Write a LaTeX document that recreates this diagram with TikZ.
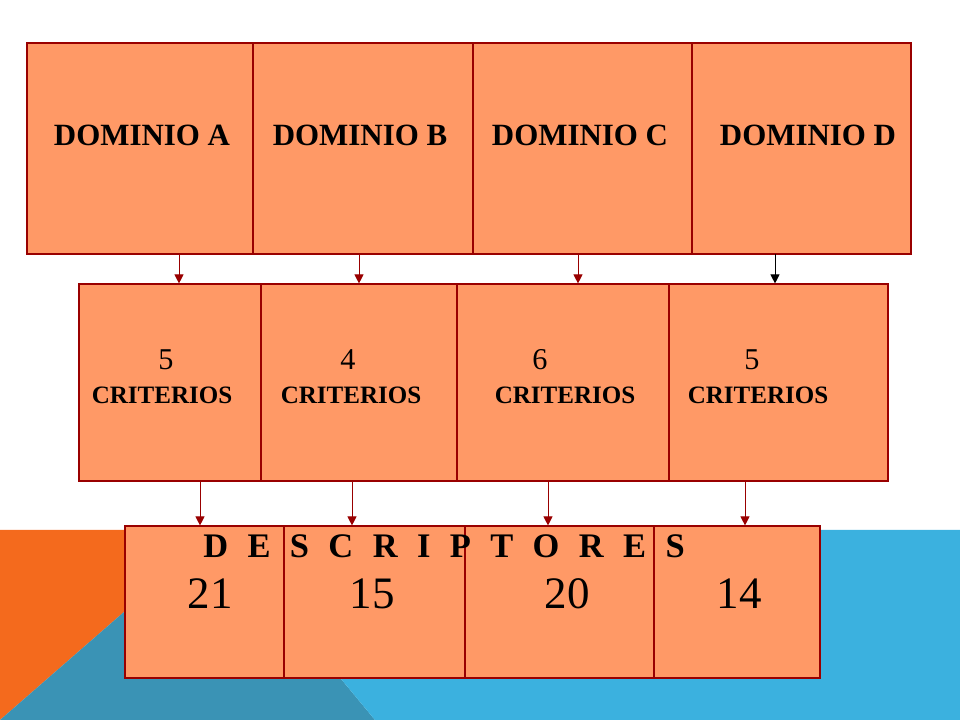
\documentclass[tikz,border=0pt]{standalone}
\usepackage{fontspec}
\setmainfont{Liberation Serif}
\usetikzlibrary{calc,arrows.meta,positioning}
\usepackage{xcolor}
\definecolor{slide_orange}{RGB}{244,106,29}
\definecolor{slide_teal}{RGB}{58,147,181}
\definecolor{slide_blue}{RGB}{59,177,223}
\definecolor{box_fill}{RGB}{255,153,102}
\definecolor{box_line}{RGB}{153,0,0}
\tikzset{
  cell/.style     = {rectangle, draw=box_line, fill=box_fill, line width=0.8pt, inner sep=0pt},
  conn/.style     = {box_line, -{Triangle[length=6.5pt,width=6.5pt]}, line width=0.7pt},
  domlbl/.style   = {anchor=base, inner sep=0pt, font=\fontsize{22}{24}\selectfont\bfseries},
  numlbl/.style   = {anchor=base, inner sep=0pt, font=\fontsize{21.5}{24}\selectfont},
  critlbl/.style  = {anchor=base, inner sep=0pt, font=\fontsize{17.8}{20}\selectfont\bfseries},
  desclbl/.style  = {anchor=base west, inner sep=0pt, font=\fontsize{24.5}{26}\selectfont\bfseries,
                     execute at begin node={\spaceskip=13.8pt\relax}},
  totlbl/.style   = {anchor=base, inner sep=0pt, font=\fontsize{32}{34}\selectfont}
}

\begin{document}
\begin{tikzpicture}[x=0.025cm, y=-0.025cm]
    \def\px{0.025cm}
    \useasboundingbox (0,0) rectangle (960,720);

    % Background band
    \fill[slide_orange] (0,530) -- (218,530) -- (0,720) -- cycle;
    \fill[slide_teal]   (218,530) -- (375,720) -- (0,720) -- cycle;
    \fill[slide_blue]   (218,530) -- (960,530) -- (960,720) -- (375,720) -- cycle;

    % ----- Dominios -----
    \foreach \n/\xa/\xb/\tx in {A/27/253/142, B/253/473/360, C/473/692/580, D/692/911/808}{
      \pgfmathsetmacro{\xc}{(\xa+\xb)/2}
      \pgfmathsetmacro{\w}{\xb-\xa}
      \node[cell, minimum width=\w*\px, minimum height=211*\px] (dom\n) at (\xc,148.5) {};
      \node[domlbl] (domtxt\n) at (\tx,146) {DOMINIO \n};
    }

    % ----- Criterios -----
    \foreach \n/\xa/\xb/\k/\xk/\xt in {A/79/261/5/166/162, B/261/457/4/348/351, C/457/669/6/540/565, D/669/888/5/752/758}{
      \pgfmathsetmacro{\xc}{(\xa+\xb)/2}
      \pgfmathsetmacro{\w}{\xb-\xa}
      \node[cell, minimum width=\w*\px, minimum height=197*\px] (crit\n) at (\xc,382.5) {};
      \node[numlbl] (critnum\n) at (\xk,370) {\k};
      \node[critlbl] (crittxt\n) at (\xt,404) {CRITERIOS};
    }

    % ----- Descriptores -----
    \foreach \n/\xa/\xb/\t/\xt in {A/125/284/21/210, B/284/465/15/372, C/465/654/20/567, D/654/820/14/739}{
      \pgfmathsetmacro{\xc}{(\xa+\xb)/2}
      \pgfmathsetmacro{\w}{\xb-\xa}
      \node[cell, minimum width=\w*\px, minimum height=152*\px] (desc\n) at (\xc,602) {};
      \node[totlbl] (desctot\n) at (\xt,608) {\t};
    }
    \node[desclbl] (desctxt) at (203,558) {D E S C R I P T O R E S};

    % Connections: dominios -> criterios
    \foreach \n/\x in {A/179, B/359, C/578}{
      \coordinate (top\n) at (\x,254);
      \draw[conn] (top\n) -- (top\n |- crit\n.north);
    }
    \coordinate (topD) at (775,254);
    \draw[conn, black] (topD) -- (topD |- critD.north);

    % Connections: criterios -> descriptores
    \foreach \n/\x in {A/200, B/352, C/548, D/745}{
      \coordinate (mid\n) at (\x,481);
      \draw[conn] (mid\n) -- (mid\n |- desc\n.north);
    }
\end{tikzpicture}
\end{document}
